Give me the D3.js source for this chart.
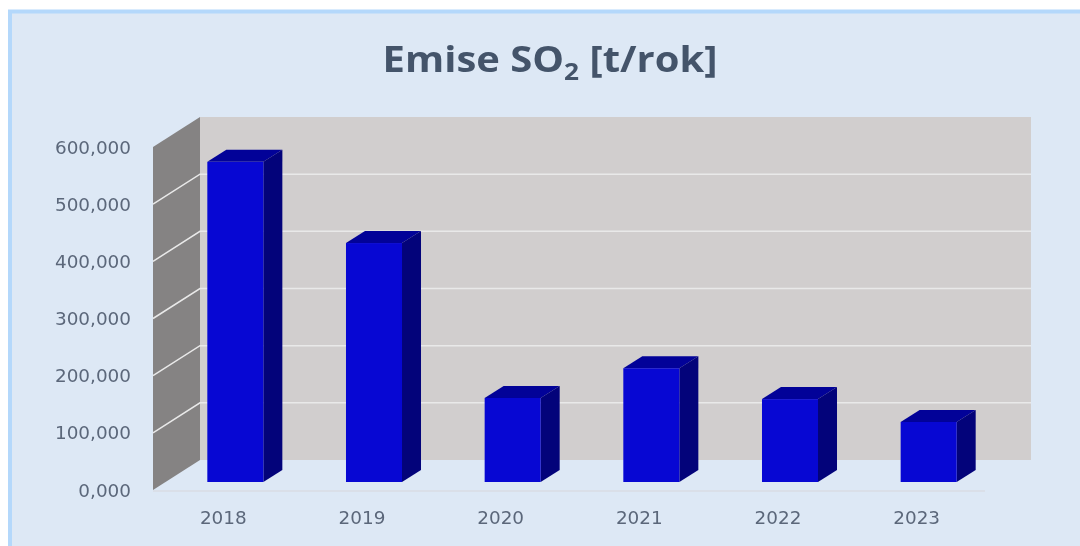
<!DOCTYPE html>
<html><head><meta charset="utf-8">
<script src="https://cdn.jsdelivr.net/npm/d3@7"></script>
<style>html,body{margin:0;padding:0;background:#fff;overflow:hidden}svg{display:block}</style>
</head><body><svg id="c" width="1080" height="546"></svg>
<script>
const years = ["2018","2019","2020","2021","2022","2023"];
const emissions = [560, 418, 147, 199, 145, 105];
const yTicks = [0,100,200,300,400,500,600];
const tickLabels = ["0,000","100,000","200,000","300,000","400,000","500,000","600,000"];

const svg = d3.select("#c");
const defs = svg.append("defs");
defs.append("filter").attr("id","soft").attr("filterUnits","userSpaceOnUse")
  .attr("x",0).attr("y",0).attr("width",1080).attr("height",546)
  .attr("color-interpolation-filters","sRGB")
  .append("feGaussianBlur").attr("stdDeviation",0.55);
const root = svg.append("g").attr("filter","url(#soft)");

// panel
root.append("rect").attr("x",10).attr("y",11.5).attr("width",1075).attr("height",540)
  .attr("fill","#dde8f5").attr("stroke","#b4d8fb").attr("stroke-width",4);

// title
const title = root.append("text").attr("transform","translate(550,72) scale(1.142,1)").attr("text-anchor","middle")
  .attr("font-family","'Open Sans',sans-serif").attr("font-weight",700).attr("font-size",35).attr("fill","#44546a");
title.append("tspan").text("Emise SO");
title.append("tspan").attr("dy",8).attr("font-size",23).text("2");
title.append("tspan").attr("dy",-8).text(" [t/rok]");

// scales
const y = d3.scaleLinear().domain([0,600]).range([490,147]);
const x = d3.scaleBand().domain(years).range([153,985]).paddingInner(0.596).paddingOuter(0.298);
const wallDx = 47, wallDy = -30;      // depth of the whole plot box
const barShift = 13, barLift = -8;    // bar front face inside the box
const barDx = 19, barDy = -12;        // bar depth
const backRight = 1031;

// back wall
root.append("rect").attr("x",153+wallDx).attr("y",y(600)+wallDy)
  .attr("width",backRight-153-wallDx).attr("height",y(0)-y(600))
  .attr("fill","#d1cece");
// side wall
const poly = d3.line();
root.append("path").attr("d",poly([[153,y(0)],[153,y(600)],[153+wallDx,y(600)+wallDy],[153+wallDx,y(0)+wallDy]])+"Z")
  .attr("fill","#858383");
// gridlines
yTicks.filter(t=>t>0&&t<600).forEach(t=>{
  root.append("path").attr("d",poly([[153,y(t)],[153+wallDx,y(t)+wallDy],[backRight,y(t)+wallDy]]))
    .attr("fill","none").attr("stroke","#e9e9e9").attr("stroke-width",1.5);
});
// floor front edge
root.append("line").attr("x1",153).attr("x2",985).attr("y1",491).attr("y2",491)
  .attr("stroke","#d9dde3").attr("stroke-width",1.6);

// axis labels
root.selectAll(".yl").data(yTicks).join("text").attr("class","yl")
  .attr("x",131).attr("y",t=>y(t)+6.5).attr("text-anchor","end")
  .attr("font-family","'DejaVu Sans',sans-serif").attr("font-size",18.4).attr("fill","#5b677a")
  .text((t,i)=>tickLabels[i]);
root.selectAll(".xl").data(years).join("text").attr("class","xl")
  .attr("x",d=>x(d)+x.bandwidth()/2+1).attr("y",524).attr("text-anchor","middle")
  .attr("font-family","'DejaVu Sans',sans-serif").attr("font-size",18.4).attr("fill","#5b677a")
  .text(d=>d);

// bars
const bars = root.selectAll(".bar").data(years.map((d,i)=>({d,v:emissions[i]}))).join("g").attr("class","bar");
const X0 = d=>x(d.d)+barShift, W = x.bandwidth();
const base = y(0)+barLift, barTop = d=>y(d.v)+barLift;
bars.append("path").attr("d",d=>poly([[X0(d),barTop(d)],[X0(d)+barDx,barTop(d)+barDy],[X0(d)+W+barDx,barTop(d)+barDy],[X0(d)+W,barTop(d)]])+"Z")
  .attr("fill","#020298");
bars.append("path").attr("d",d=>poly([[X0(d)+W,barTop(d)],[X0(d)+W+barDx,barTop(d)+barDy],[X0(d)+W+barDx,base+barDy],[X0(d)+W,base]])+"Z")
  .attr("fill","#03037a");
bars.append("rect").attr("x",X0).attr("y",barTop).attr("width",W).attr("height",d=>base-barTop(d))
  .attr("fill","#0707d3");
</script></body></html>
